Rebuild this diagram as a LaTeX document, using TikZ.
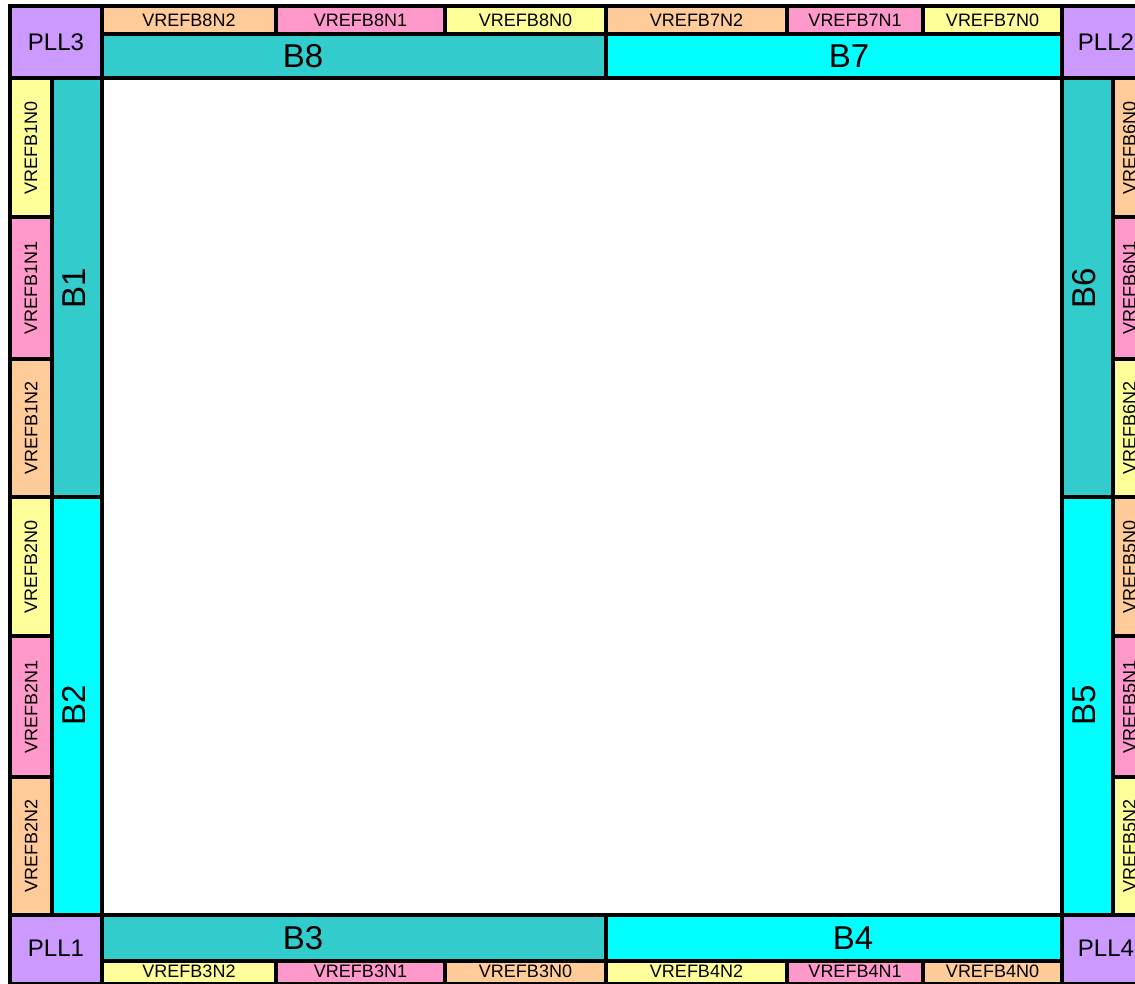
\documentclass[tikz,border=0pt]{standalone}
\usepackage{fontspec}
\setmainfont{Liberation Sans}
\usetikzlibrary{fit,calc}
\definecolor{pllpurple}{HTML}{CC99FF}
\definecolor{bankteal}{HTML}{33CCCC}
\definecolor{bankcyan}{HTML}{00FFFF}
\definecolor{vreforange}{HTML}{FFCC99}
\definecolor{vrefpink}{HTML}{FF99CC}
\definecolor{vrefyellow}{HTML}{FFFF99}
\tikzset{
  cell/.style={inner sep=0pt,outer sep=0pt},
  border/.style={draw=black,line width=4pt},
  plltext/.style={inner sep=0pt,font=\fontsize{24}{24}\selectfont},
  vreftext/.style={inner sep=0pt,font=\fontsize{18}{18}\selectfont},
  banktext/.style={inner sep=0pt,font=\fontsize{33}{33}\selectfont}
}
\begin{document}
\begin{tikzpicture}[x=1pt,y=-1pt]
\useasboundingbox (0,0) rectangle (1135,983);
\clip (0,0) rectangle (1135,983);
\fill[white] (0,0) rectangle (1135,983);

% corner PLLs
\node[cell,fill=pllpurple,fit={(10,6)(102,78)}] (pll3) {};
\node[cell,fill=pllpurple,fit={(1062,6)(1148,78)}] (pll2) {};
\node[cell,fill=pllpurple,fit={(10,915)(102,984)}] (pll1) {};
\node[cell,fill=pllpurple,fit={(1062,915)(1148,984)}] (pll4) {};
\node[plltext] at (56,42) {PLL3};
\node[plltext] at (1106,42) {PLL2};
\node[plltext] at (56,948) {PLL1};
\node[plltext] at (1106,948) {PLL4};

% banks
\node[cell,fill=bankteal,fit={(102,34)(606,78)}] (b8) {};
\node[cell,fill=bankcyan,fit={(606,34)(1062,78)}] (b7) {};
\node[cell,fill=bankteal,fit={(102,915)(606,961)}] (b3) {};
\node[cell,fill=bankcyan,fit={(606,915)(1062,961)}] (b4) {};
\node[cell,fill=bankteal,fit={(52,78)(102,497)}] (b1) {};
\node[cell,fill=bankcyan,fit={(52,497)(102,915)}] (b2) {};
\node[cell,fill=bankteal,fit={(1062,78)(1113,497)}] (b6) {};
\node[cell,fill=bankcyan,fit={(1062,497)(1113,915)}] (b5) {};

\node[banktext] (b8label) at (303,56) {B8};
\node[banktext] (b7label) at (849,56) {B7};
\node[banktext] (b3label) at (303,938) {B3};
\node[banktext] (b4label) at (853,938) {B4};
\node[banktext,rotate=90] (b1label) at (74,288) {B1};
\node[banktext,rotate=90] (b2label) at (74,705) {B2};
\node[banktext,rotate=90] (b6label) at (1084,288) {B6};
\node[banktext,rotate=90] (b5label) at (1084,705) {B5};

% top and bottom VREF rows
\foreach \name/\xa/\xb/\col in {8N2/102/276/vreforange,8N1/276/445/vrefpink,
    8N0/445/606/vrefyellow,7N2/606/787/vreforange,7N1/787/923/vrefpink,
    7N0/923/1062/vrefyellow}
{
  \node[cell,fill=\col,fit={(\xa,6)(\xb,34)}] (v\name) {};
  \node[vreftext] at (v\name.center) {VREFB\name};
}
\foreach \name/\xa/\xb/\col in {3N2/102/276/vrefyellow,3N1/276/445/vrefpink,
    3N0/445/606/vreforange,4N2/606/787/vrefyellow,4N1/787/923/vrefpink,
    4N0/923/1062/vreforange}
{
  \node[cell,fill=\col,fit={(\xa,961)(\xb,984)}] (v\name) {};
  \node[vreftext] at ($(v\name.center)+(0,-1)$) {VREFB\name};
}

% left and right VREF columns
\foreach \name/\ya/\yb/\col in {1N0/78/217/vrefyellow,1N1/217/359/vrefpink,
    1N2/359/497/vreforange,2N0/497/636/vrefyellow,2N1/636/777/vrefpink,
    2N2/777/915/vreforange}
{
  \node[cell,fill=\col,fit={(10,\ya)(52,\yb)}] (v\name) {};
  \node[vreftext,rotate=90] at (v\name.center) {VREFB\name};
}
\foreach \name/\ya/\yb/\col in {6N0/78/217/vreforange,6N1/217/359/vrefpink,
    6N2/359/497/vrefyellow,5N0/497/636/vreforange,5N1/636/777/vrefpink,
    5N2/777/915/vrefyellow}
{
  \node[cell,fill=\col,fit={(1113,\ya)(1148,\yb)}] (v\name) {};
  \node[vreftext,rotate=90] at ($(v\name.center)+(-1,0)$) {VREFB\name};
}

% black frame lines round every cell
\foreach \n in {pll1,pll2,pll3,pll4,b1,b2,b3,b4,b5,b6,b7,b8,
    v8N2,v8N1,v8N0,v7N2,v7N1,v7N0,v3N2,v3N1,v3N0,v4N2,v4N1,v4N0,
    v1N0,v1N1,v1N2,v2N0,v2N1,v2N2,v6N0,v6N1,v6N2,v5N0,v5N1,v5N2}
  \draw[border] (\n.south west) rectangle (\n.north east);
\end{tikzpicture}
\end{document}
